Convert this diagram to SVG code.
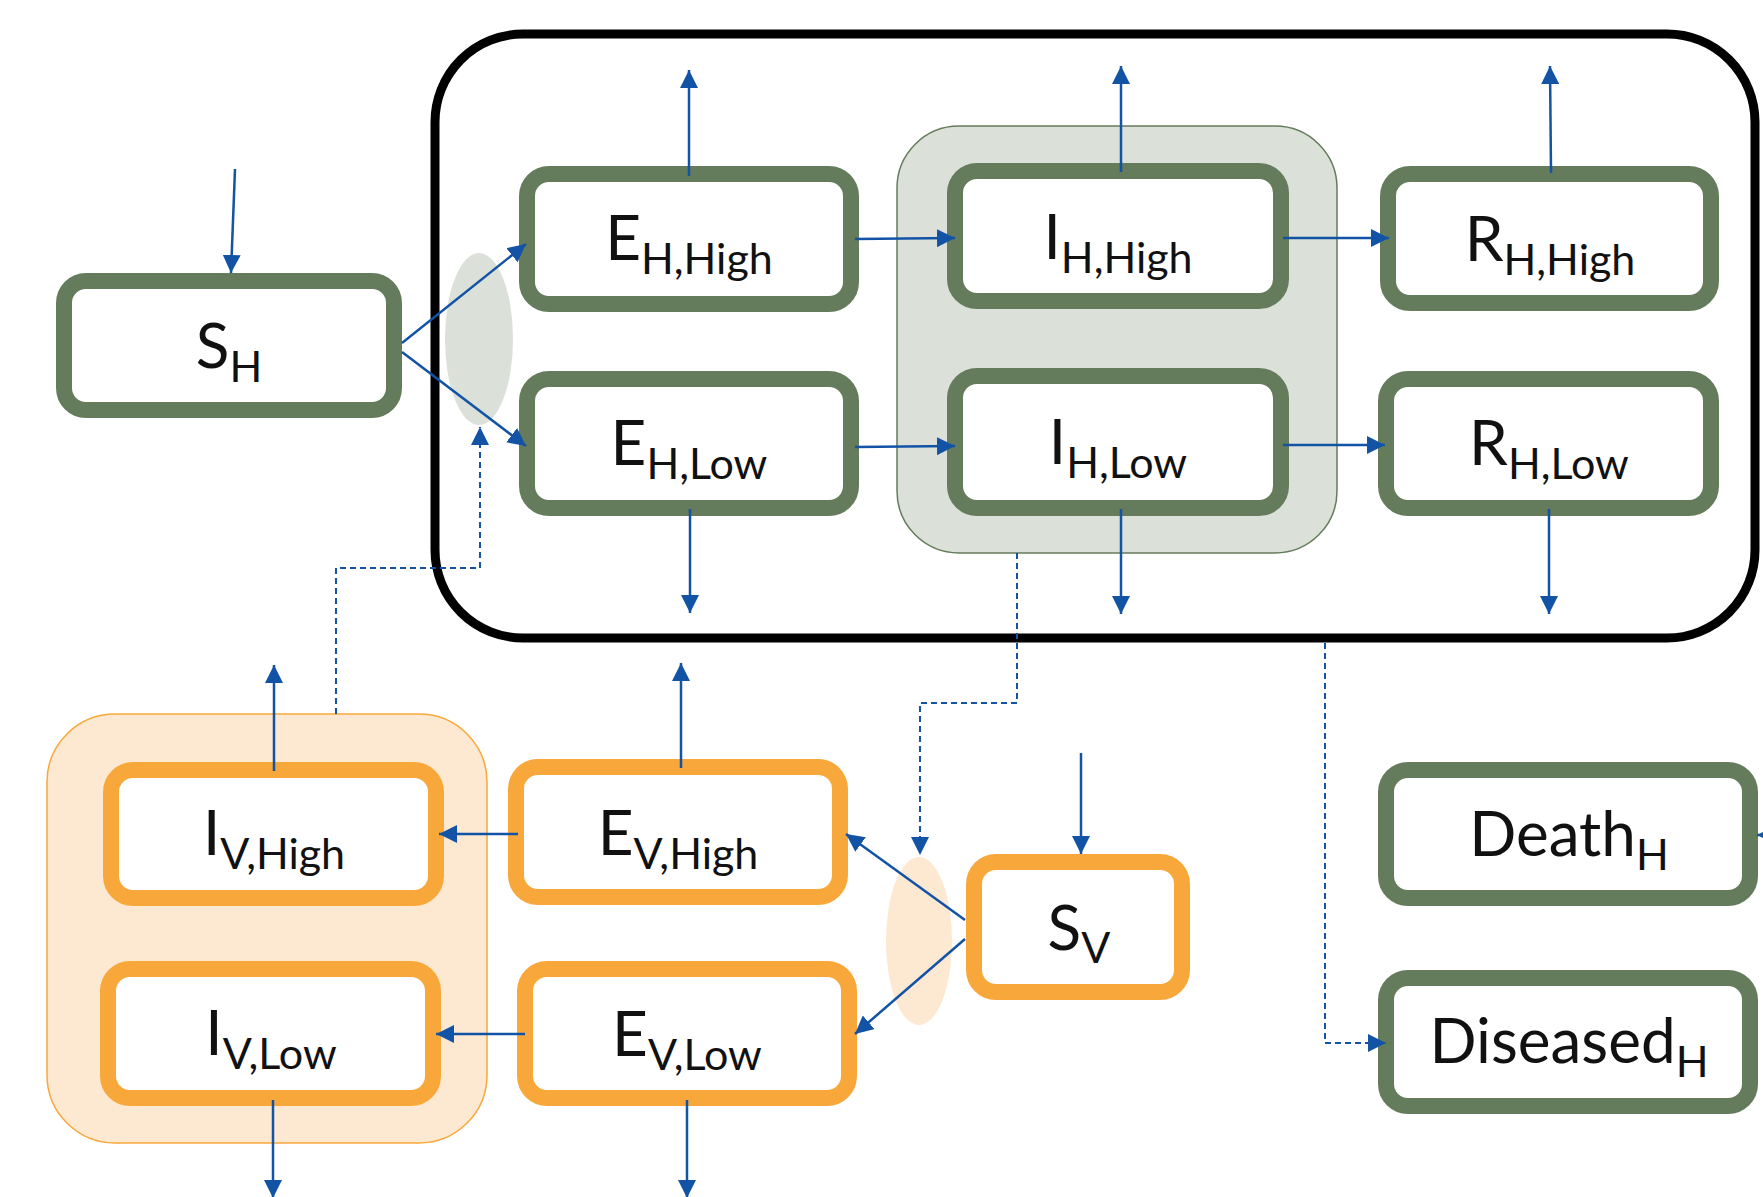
<svg xmlns="http://www.w3.org/2000/svg" width="1763" height="1197" viewBox="0 0 1763 1197">
  <style>
    .host { fill: #ffffff; stroke: #647c5c; stroke-width: 16; }
    .vec { fill: #ffffff; stroke: #f8a83b; stroke-width: 16; }
    .lbl { font-family: Lato, "Open Sans", "Liberation Sans", sans-serif; font-size: 62px; fill: #111111; text-anchor: middle; }
    .sub { font-size: 43px; }
    .flow { fill: none; stroke: #1353a6; stroke-width: 2.5; marker-end: url(#tip); }
    .dash { fill: none; stroke: #1353a6; stroke-width: 2; stroke-dasharray: 6 4; marker-end: url(#tip); }
  </style>
  <defs>
    <marker id="tip" viewBox="0 0 18 18" refX="18" refY="9" markerWidth="18" markerHeight="18" markerUnits="userSpaceOnUse" orient="auto">
      <path d="M0,0 L18,9 L0,18 z" fill="#1353a6"/>
    </marker>
  </defs>

  <!-- compartment groupings -->
  <g id="host-frame">
    <rect x="435" y="34" width="1320" height="604" rx="88" fill="none" stroke="#000000" stroke-width="9"/>
  </g>
  <g id="host-infectious">
    <rect x="897" y="126" width="440" height="427" rx="62" fill="#dbe0d8" stroke="#647c5c" stroke-width="1.5"/>
  </g>
  <g id="vector-infectious">
    <rect x="47" y="714" width="440" height="429" rx="68" fill="#fde9d2" stroke="#f8a83b" stroke-width="1.5"/>
  </g>
  <g id="host-contact">
    <ellipse cx="479" cy="339" rx="34" ry="86" fill="#dbe0d8"/>
  </g>
  <g id="vector-contact">
    <ellipse cx="919" cy="941" rx="33" ry="84" fill="#fde9d2"/>
  </g>

  <!-- host compartments -->
  <g id="S_H">
    <rect class="host" x="64" y="281" width="330" height="129" rx="22"/>
    <text class="lbl" x="229" y="368">S<tspan class="sub" dy="14">H</tspan></text>
  </g>
  <g id="E_H_High">
    <rect class="host" x="527" y="174" width="324" height="130" rx="22"/>
    <text class="lbl" x="689" y="260">E<tspan class="sub" dy="14">H,High</tspan></text>
  </g>
  <g id="E_H_Low">
    <rect class="host" x="527" y="379" width="324" height="129" rx="22"/>
    <text class="lbl" x="689" y="465">E<tspan class="sub" dy="14">H,Low</tspan></text>
  </g>
  <g id="I_H_High">
    <rect class="host" x="955" y="171" width="326" height="130" rx="22"/>
    <text class="lbl" x="1118" y="259">I<tspan class="sub" dy="14">H,High</tspan></text>
  </g>
  <g id="I_H_Low">
    <rect class="host" x="955" y="376" width="326" height="132" rx="22"/>
    <text class="lbl" x="1118" y="464">I<tspan class="sub" dy="14">H,Low</tspan></text>
  </g>
  <g id="R_H_High">
    <rect class="host" x="1388" y="174" width="323" height="129" rx="22"/>
    <text class="lbl" x="1550" y="261">R<tspan class="sub" dy="14">H,High</tspan></text>
  </g>
  <g id="R_H_Low">
    <rect class="host" x="1386" y="379" width="325" height="129" rx="22"/>
    <text class="lbl" x="1549" y="465">R<tspan class="sub" dy="14">H,Low</tspan></text>
  </g>
  <g id="Death_H">
    <rect class="host" x="1386" y="770" width="364" height="128" rx="22"/>
    <text class="lbl" x="1569" y="856">Death<tspan class="sub" dy="14">H</tspan></text>
  </g>
  <g id="Diseased_H">
    <rect class="host" x="1386" y="978" width="364" height="128" rx="22"/>
    <text class="lbl" x="1569" y="1063">Diseased<tspan class="sub" dy="14">H</tspan></text>
  </g>

  <!-- vector compartments -->
  <g id="S_V">
    <rect class="vec" x="974" y="862" width="208" height="130" rx="22"/>
    <text class="lbl" x="1079" y="950">S<tspan class="sub" dy="13">V</tspan></text>
  </g>
  <g id="E_V_High">
    <rect class="vec" x="516" y="767" width="324" height="130" rx="22"/>
    <text class="lbl" x="678" y="855">E<tspan class="sub" dy="14">V,High</tspan></text>
  </g>
  <g id="E_V_Low">
    <rect class="vec" x="525" y="969" width="324" height="129" rx="22"/>
    <text class="lbl" x="687" y="1056">E<tspan class="sub" dy="14">V,Low</tspan></text>
  </g>
  <g id="I_V_High">
    <rect class="vec" x="111" y="770" width="325" height="128" rx="22"/>
    <text class="lbl" x="274" y="855">I<tspan class="sub" dy="14">V,High</tspan></text>
  </g>
  <g id="I_V_Low">
    <rect class="vec" x="108" y="969" width="325" height="129" rx="22"/>
    <text class="lbl" x="271" y="1055">I<tspan class="sub" dy="14">V,Low</tspan></text>
  </g>

  <!-- transitions -->
  <g id="connectors">
    <path class="flow" d="M235,169 L231,273"/>
    <path class="flow" d="M402,343 L526,244"/>
    <path class="flow" d="M402,352 L526,446"/>
    <path class="flow" d="M689,176 L689,70"/>
    <path class="flow" d="M690,509 L690,613"/>
    <path class="flow" d="M855,239 L955,238"/>
    <path class="flow" d="M855,447 L955,446"/>
    <path class="flow" d="M1121,172 L1121,66"/>
    <path class="flow" d="M1121,509 L1121,614"/>
    <path class="flow" d="M1283,238 L1389,238"/>
    <path class="flow" d="M1283,445 L1385,445"/>
    <path class="flow" d="M1551,173 L1550,66"/>
    <path class="flow" d="M1549,509 L1549,614"/>
    <path class="flow" d="M1800,835 L1757,835"/>

    <path class="flow" d="M1081,753 L1081,854"/>
    <path class="flow" d="M965,920 L846,834"/>
    <path class="flow" d="M965,939 L855,1034"/>
    <path class="flow" d="M518,834 L439,834"/>
    <path class="flow" d="M525,1034 L436,1034"/>
    <path class="flow" d="M274,771 L274,665"/>
    <path class="flow" d="M681,768 L681,663"/>
    <path class="flow" d="M273,1100 L273,1198"/>
    <path class="flow" d="M687,1100 L687,1198"/>

    <path class="dash" d="M1017,553 L1017,703 L920,703 L920,855"/>
    <path class="dash" d="M336,714 L336,568 L480,568 L480,427"/>
    <path class="dash" d="M1325,643 L1325,1043 L1386,1043"/>
  </g>
</svg>
